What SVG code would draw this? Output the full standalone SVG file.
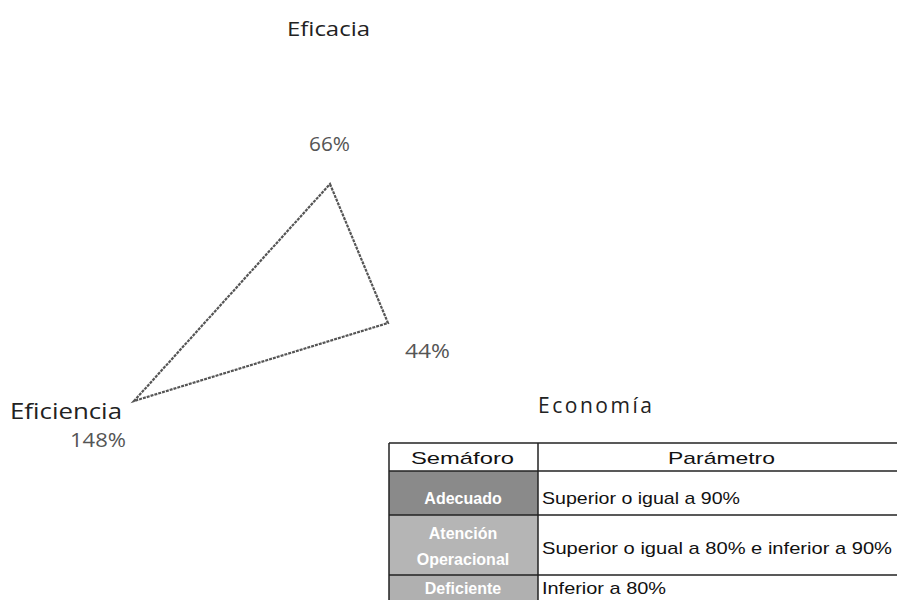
<svg xmlns="http://www.w3.org/2000/svg" width="897" height="600" viewBox="0 0 897 600">
<style>
.lbl{font-family:"Open Sans","Liberation Sans",sans-serif;fill:#222;}
.pct{font-family:"Open Sans","Liberation Sans",sans-serif;fill:#555;}
.tb{font-family:"Liberation Sans","DejaVu Sans",sans-serif;fill:#111;font-size:17px;}
.sem{font-family:"Liberation Sans","DejaVu Sans",sans-serif;fill:#fff;font-size:16px;font-weight:bold;text-anchor:middle;}
.grid{stroke:#222;stroke-width:1.5;fill:none;}
</style>
<rect width="897" height="600" fill="#fff"/>
<g id="radar">
<polygon points="330,184 388,323 134,401" fill="none" stroke="#555" stroke-width="2.2" stroke-dasharray="3,1"/>
</g>
<g id="label-eficacia"><text class="lbl" x="287" y="36" font-size="20" textLength="83" lengthAdjust="spacingAndGlyphs">Eficacia</text></g>
<g id="label-66"><text class="pct" x="309" y="151" font-size="20" textLength="41" lengthAdjust="spacingAndGlyphs">66%</text></g>
<g id="label-44"><text class="pct" x="405" y="358" font-size="20" textLength="45" lengthAdjust="spacingAndGlyphs">44%</text></g>
<g id="label-eficiencia"><text class="lbl" x="10" y="419" font-size="21" textLength="112" lengthAdjust="spacingAndGlyphs">Eficiencia</text></g>
<g id="label-148"><text class="pct" x="70" y="447" font-size="20" textLength="56" lengthAdjust="spacingAndGlyphs">148%</text></g>
<g id="label-economia"><text class="lbl" x="538" y="413" font-size="21" textLength="114" lengthAdjust="spacing">Economía</text></g>
<g id="table">
<rect x="389" y="471" width="149" height="44" fill="#8a8a8a"/>
<rect x="389" y="515" width="149" height="60" fill="#b5b5b5"/>
<rect x="389" y="575" width="149" height="25" fill="#b0b0b0"/>
<line class="grid" x1="389" y1="443" x2="897" y2="443"/>
<line class="grid" x1="389" y1="471" x2="897" y2="471"/>
<line class="grid" x1="389" y1="515" x2="897" y2="515"/>
<line class="grid" x1="389" y1="575" x2="897" y2="575"/>
<line class="grid" x1="389" y1="443" x2="389" y2="600"/>
<line class="grid" x1="538" y1="443" x2="538" y2="600"/>
<text class="tb" x="411" y="464" textLength="103" lengthAdjust="spacingAndGlyphs">Semáforo</text>
<text class="tb" x="668" y="464" textLength="107" lengthAdjust="spacingAndGlyphs">Parámetro</text>
<text class="sem" x="463" y="504">Adecuado</text>
<text class="sem" x="463" y="539">Atención</text>
<text class="sem" x="463" y="565">Operacional</text>
<text class="sem" x="463" y="594" font-size="15">Deficiente</text>
<text class="tb" x="542" y="504" textLength="198" lengthAdjust="spacingAndGlyphs">Superior o igual a 90%</text>
<text class="tb" x="542" y="554" textLength="350" lengthAdjust="spacingAndGlyphs">Superior o igual a 80% e inferior a 90%</text>
<text class="tb" x="542" y="594" font-size="16" textLength="124" lengthAdjust="spacingAndGlyphs">Inferior a 80%</text>
</g>
</svg>
